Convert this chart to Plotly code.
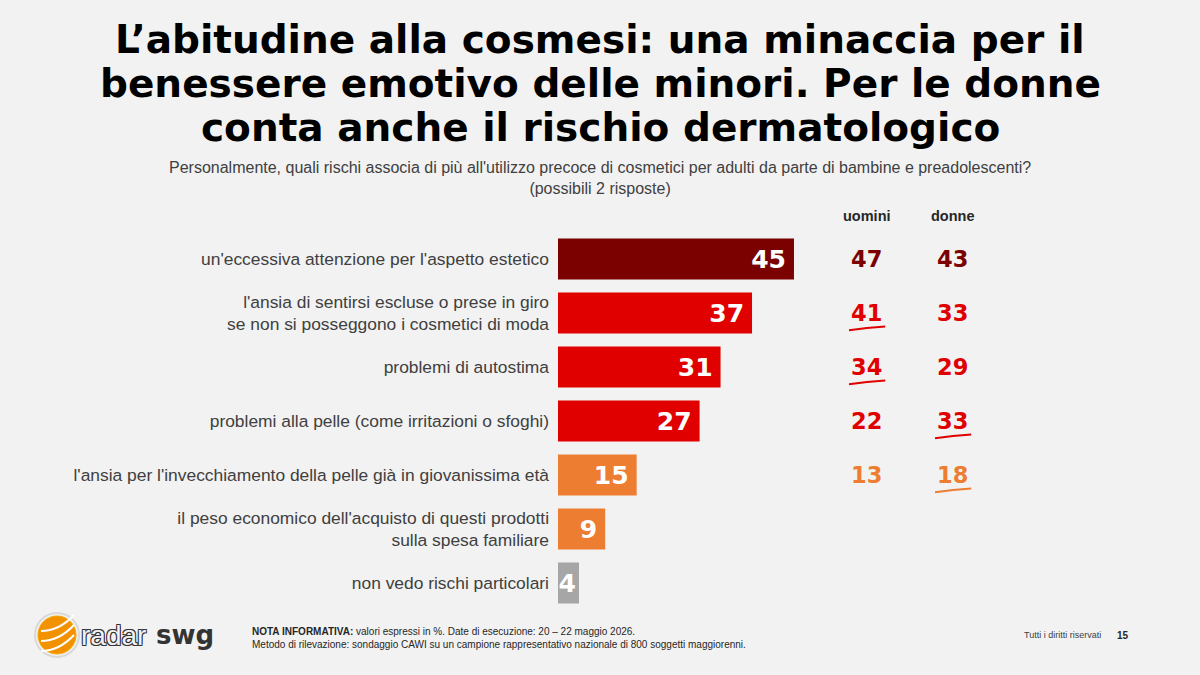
import plotly.graph_objects as go

# ---------------- data ----------------
categories = [
    "un'eccessiva attenzione per l'aspetto estetico",
    "l'ansia di sentirsi escluse o prese in giro<br>se non si posseggono i cosmetici di moda",
    "problemi di autostima",
    "problemi alla pelle (come irritazioni o sfoghi)",
    "l'ansia per l'invecchiamento della pelle già in giovanissima età",
    "il peso economico dell'acquisto di questi prodotti<br>sulla spesa familiare",
    "non vedo rischi particolari",
]
totale = [45, 37, 31, 27, 15, 9, 4]
uomini = [47, 41, 34, 22, 13, None, None]
donne = [43, 33, 29, 33, 18, None, None]
uomini_sig = [False, True, True, False, False, False, False]
donne_sig = [False, False, False, True, True, False, False]

title_lines = [
    "L’abitudine alla cosmesi: una minaccia per il",
    "benessere emotivo delle minori. Per le donne",
    "conta anche il rischio dermatologico",
]
subtitle = ("Personalmente, quali rischi associa di più all'utilizzo precoce di cosmetici "
            "per adulti da parte di bambine e preadolescenti?<br>(possibili 2 risposte)")

# ---------------- styles ----------------
row_colors = ["#7B0000", "#E00000", "#E00000", "#E00000", "#ED7D31", "#ED7D31", "#A6A6A6"]
BG = "#F2F2F2"
W, H = 1200, 675
FONT = "Liberation Sans, Arial, sans-serif"
HEAVY = "DejaVu Sans, Liberation Sans, sans-serif"
X_UOM, X_DON = 58.9, 75.3

# small right padding inside bars, except the narrow last bar
bar_templates = ["%{text}\u2009" if v >= 9 else "%{text}" for v in totale]

fig = go.Figure()
fig.add_trace(go.Bar(
    x=totale, y=categories, orientation="h",
    marker=dict(color=row_colors, line=dict(width=0)),
    width=0.76,
    text=totale, texttemplate=bar_templates,
    textposition="inside", insidetextanchor="end",
    constraintext="none",
    textfont=dict(family=HEAVY, size=25, color="white", weight="bold"),
    hoverinfo="skip",
))

ann = []
# title
for i, line in enumerate(title_lines):
    ann.append(dict(text=f"<b>{line}</b>", x=0.5, y=1 - [40, 83.5, 127][i] / H,
                    xref="paper", yref="paper", xanchor="center", yanchor="middle",
                    showarrow=False, font=dict(family=HEAVY, size=39, color="#000000")))
# subtitle
ann.append(dict(text=subtitle, x=0.5, y=1 - 177.5 / H, xref="paper", yref="paper",
                xanchor="center", yanchor="middle", showarrow=False,
                font=dict(family=FONT, size=16, color="#404040")))
# column headers
for xv, lab in [(X_UOM, "uomini"), (X_DON, "donne")]:
    ann.append(dict(text=f"<b>{lab}</b>", x=xv, y=1 - 216 / H, xref="x", yref="paper",
                    xanchor="center", yanchor="middle", showarrow=False,
                    font=dict(family=FONT, size=14.5, color="#262626")))

shapes = []
for i, cat in enumerate(categories):
    for xv, vals, sig in [(X_UOM, uomini, uomini_sig), (X_DON, donne, donne_sig)]:
        if vals[i] is None:
            continue
        ann.append(dict(text=f"<b>{vals[i]}</b>", x=xv, y=i, xref="x", yref="y",
                        xanchor="center", yanchor="middle", showarrow=False,
                        font=dict(family=HEAVY, size=22.5, color=row_colors[i])))
        if sig[i]:
            shapes.append(dict(type="path", xref="x", yref="y",
                               path=f"M {xv-3.4} {i+0.32} Q {xv} {i+0.27} {xv+3.5} {i+0.25}",
                               line=dict(color=row_colors[i], width=2)))

# footer notes
ann.append(dict(text="<b>NOTA INFORMATIVA:</b> valori espressi in %. Date di esecuzione: 20 – 22 maggio 2026.<br>"
                     "Metodo di rilevazione: sondaggio CAWI su un campione rappresentativo nazionale di 800 soggetti maggiorenni.",
                x=250 / W, y=1 - 638 / H, xref="paper", yref="paper", xanchor="left", yanchor="middle",
                align="left", showarrow=False, font=dict(family=FONT, size=10, color="#262626")))
ann.append(dict(text="Tutti i diritti riservati", x=1103 / W, y=1 - 635 / H, xref="paper", yref="paper",
                xanchor="right", yanchor="middle", showarrow=False,
                font=dict(family=FONT, size=9, color="#404040")))
ann.append(dict(text="<b>15</b>", x=1123 / W, y=1 - 635 / H, xref="paper", yref="paper",
                xanchor="center", yanchor="middle", showarrow=False,
                font=dict(family=FONT, size=10, color="#262626")))

# logo
cx, cy, r = 57, 635, 19
def px(x):
    return x / W
def py(y):
    return 1 - y / H
shapes.append(dict(type="circle", xref="paper", yref="paper",
                   x0=px(cx - r - 3), x1=px(cx + r + 3), y0=py(cy + r + 3), y1=py(cy - r - 3),
                   fillcolor="rgba(0,0,0,0)", line=dict(color="#D9D9D9", width=2)))
shapes.append(dict(type="circle", xref="paper", yref="paper",
                   x0=px(cx - r), x1=px(cx + r), y0=py(cy + r), y1=py(cy - r),
                   fillcolor="#F39200", line=dict(color="#F7A600", width=1)))
for off in [-10, 0, 10]:
    x0, y0 = cx - r + 3, cy + off + 6
    x1, y1 = cx + r - 2, cy + off - 10
    qx, qy = cx + 2, cy + off + 6
    shapes.append(dict(type="path", xref="paper", yref="paper",
                       path=f"M {px(x0)} {py(y0)} Q {px(qx)} {py(qy)} {px(x1)} {py(y1)}",
                       line=dict(color="white", width=2)))
ann.append(dict(text="radar", x=79 / W, y=py(635), xref="paper", yref="paper",
                xanchor="left", yanchor="middle", showarrow=False,
                font=dict(family=FONT, size=28, color="#F2F2F2",
                          shadow="1px 1px 0 #333, -1px -1px 0 #333, 1px -1px 0 #333, -1px 1px 0 #333")))
ann.append(dict(text="<b>swg</b>", x=154 / W, y=py(635), xref="paper", yref="paper",
                xanchor="left", yanchor="middle", showarrow=False,
                font=dict(family=HEAVY, size=26, color="#333333")))

fig.update_layout(
    width=W, height=H,
    paper_bgcolor=BG, plot_bgcolor=BG,
    margin=dict(l=0, r=0, t=0, b=0),
    showlegend=False,
    xaxis=dict(domain=[558 / W, (558 + 100 * 5.244) / W], range=[0, 100], visible=False),
    yaxis=dict(domain=[65 / H, 443 / H], type="category", range=[6.5, -0.5],
               showgrid=False, zeroline=False, showline=False, ticks="",
               ticklabelstandoff=8,
               tickfont=dict(family=FONT, size=17.4, color="#404040")),
    annotations=ann, shapes=shapes,
)

fig.write_html("out.html")
